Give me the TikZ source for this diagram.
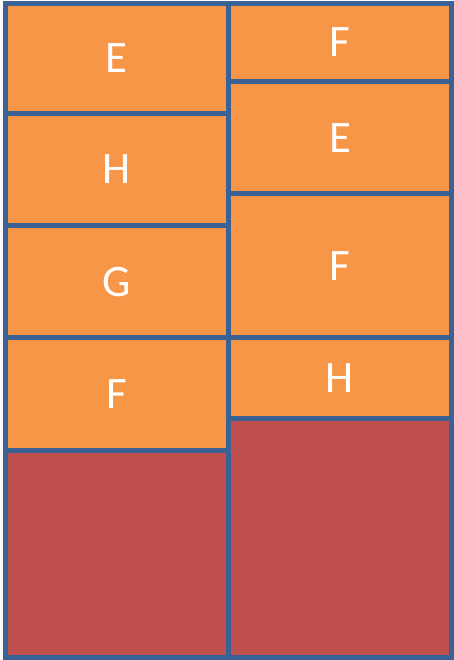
\documentclass[tikz,border=0pt]{standalone}
\usepackage{fontspec}
\setmainfont{Carlito}
\usepackage{tikz}
\definecolor{BoxFill}{HTML}{F79646}
\definecolor{FreeFill}{HTML}{C0504D}
\definecolor{BoxLine}{HTML}{3A6295}
\tikzset{
  slot/.style={draw=BoxLine,line width=5pt,fill=BoxFill},
  freeslot/.style={draw=BoxLine,line width=5pt,fill=FreeFill},
  tag/.style={text=white,font=\fontsize{45}{45}\selectfont,
    inner sep=0pt,text height=29pt,text depth=0pt}
}

\begin{document}
\begin{tikzpicture}[x=1pt,y=-1pt]
  \useasboundingbox (0,0) rectangle (454,660);
  % left column
  \foreach \top/\bot/\lbl/\nm in {3.5/113.5/E/la,113.5/225.5/H/lb,225.5/337.5/G/lc,337.5/450.5/F/ld}{
    \draw[slot] (5,\top) rectangle (228.5,\bot);
    \node[tag] (\nm) at (116.75,{(\top+\bot)/2}) {\lbl};
  }
  \draw[freeslot] (5,450.5) rectangle (228.5,657.5);
  % right column
  \foreach \top/\bot/\lbl/\nm in {3.5/81.5/F/ra,81.5/194/E/rb,194/337.5/F/rc,337.5/418/H/rd}{
    \draw[slot] (228.5,\top) rectangle (451.5,\bot);
    \node[tag] (\nm) at (340,{(\top+\bot)/2}) {\lbl};
  }
  \draw[freeslot] (228.5,418) rectangle (451.5,657.5);
\end{tikzpicture}
\end{document}
